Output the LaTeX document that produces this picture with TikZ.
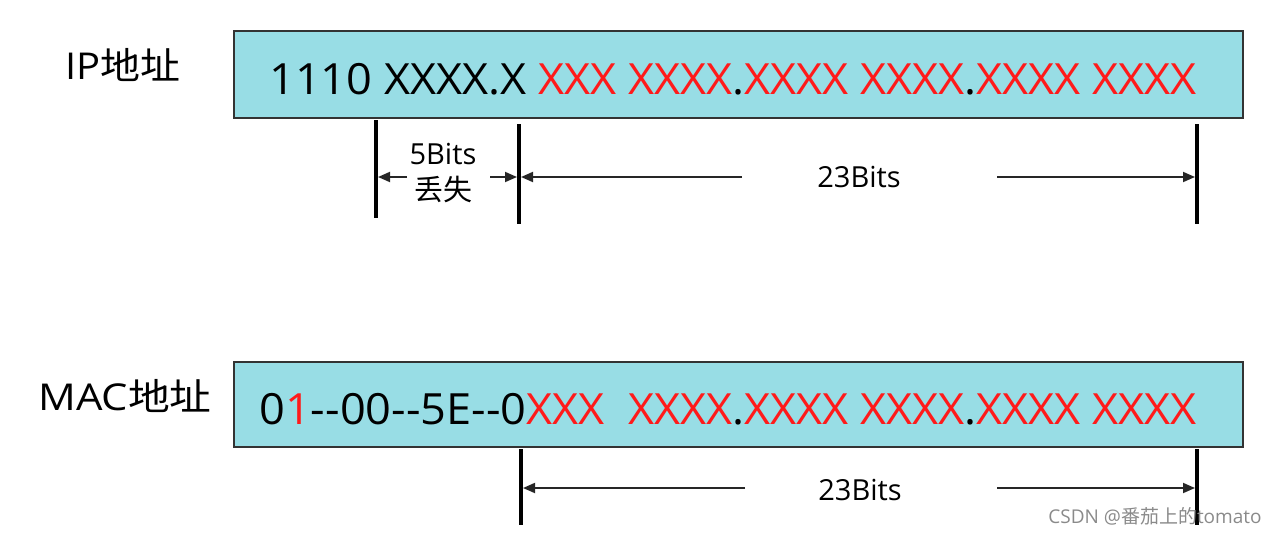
\documentclass[tikz,border=0pt]{standalone}
\usepackage{fontspec}
\setmainfont{Open Sans}
\newfontfamily\cjk{Noto Sans CJK SC}
\usetikzlibrary{arrows.meta}
\definecolor{boxfill}{HTML}{98DDE5}
\definecolor{bitred}{HTML}{FF1A1A}
\definecolor{wmgray}{HTML}{8A8A8A}
\tikzset{
  field/.style={draw=black!80, line width=1.5pt, fill=boxfill, inner sep=0pt},
  bigtext/.style={font=\fontsize{43}{45}\selectfont, inner sep=0pt, anchor=base east},
  lbl/.style={font=\fontsize{37}{40}\selectfont, inner sep=0pt},
  bitlbl/.style={font=\fontsize{29}{32}\selectfont, inner sep=0pt},
  bar/.style={line width=4pt},
  arr/.style={line width=1.8pt, draw=black!85, -{Triangle[length=12pt,width=10pt]}},
}
\newcommand{\rd}[1]{\textcolor{bitred}{#1}}
\newcommand{\wide}[1]{\scalebox{1.05}[1]{#1}}
\begin{document}
\begin{tikzpicture}[x=1pt,y=-1pt]
\useasboundingbox (0,0) rectangle (1276,535);
% boxes
\node[field, minimum width=1009pt, minimum height=87pt] (ipbox) at (738.5,74.5) {};
\node[field, minimum width=1009pt, minimum height=85pt] (macbox) at (738.5,404.5) {};
% labels
\node[lbl] (iplbl) at (123,65) {\scalebox{1.08}[1]{IP{\cjk 地址}}};
\node[lbl] (maclbl) at (125,396) {\scalebox{1.13}[1]{MAC{\cjk 地址}}};
% box texts
\node[bigtext] (iptext) at (1197,94) {\wide{1110 XXXX.X \rd{XXX XXXX}.\rd{XXXX XXXX}.\rd{XXXX XXXX}}};
\node[bigtext] (mactext) at (1197,424) {\wide{0\rd{1}-{}-00-{}-5E-{}-0\rd{XXX\ \ XXXX}.\rd{XXXX XXXX}.\rd{XXXX XXXX}}};
% bars
\coordinate (b1t) at (376,120); \coordinate (b1b) at (376,218);
\coordinate (b2t) at (519,124); \coordinate (b2b) at (519,224);
\coordinate (b3t) at (1197,124); \coordinate (b3b) at (1197,224);
\coordinate (b4t) at (521,449); \coordinate (b4b) at (521,525);
\coordinate (b5t) at (1197,449); \coordinate (b5b) at (1197,525);
\draw[bar] (b1t) -- (b1b);
\draw[bar] (b2t) -- (b2b);
\draw[bar] (b3t) -- (b3b);
\draw[bar] (b4t) -- (b4b);
\draw[bar] (b5t) -- (b5b);
% labels between bars
\node[bitlbl] (five) at (443,154) {5Bits};
\node[bitlbl] (lost) at (443,189) {\cjk 丢失};
\node[bitlbl] (up23) at (859,177) {23Bits};
\node[bitlbl] (lo23) at (860,490) {23Bits};
% upper arrows
\coordinate (a1s) at (407,177); \coordinate (a1e) at (378,177);
\coordinate (a2s) at (490,177); \coordinate (a2e) at (517,177);
\coordinate (a3s) at (742,177); \coordinate (a3e) at (521,177);
\coordinate (a4s) at (997,177); \coordinate (a4e) at (1195,177);
\draw[arr] (a1s) -- (a1e);
\draw[arr] (a2s) -- (a2e);
\draw[arr] (a3s) -- (a3e);
\draw[arr] (a4s) -- (a4e);
% lower arrows
\coordinate (a5s) at (745,488); \coordinate (a5e) at (523,488);
\coordinate (a6s) at (997,488); \coordinate (a6e) at (1195,488);
\draw[arr] (a5s) -- (a5e);
\draw[arr] (a6s) -- (a6e);
% watermark
\node[font=\fontsize{19}{21}\selectfont, text=wmgray, inner sep=0pt] (wm) at (1155,516) {CSDN @{\cjk 番茄上的}tomato};
\end{tikzpicture}
\end{document}
